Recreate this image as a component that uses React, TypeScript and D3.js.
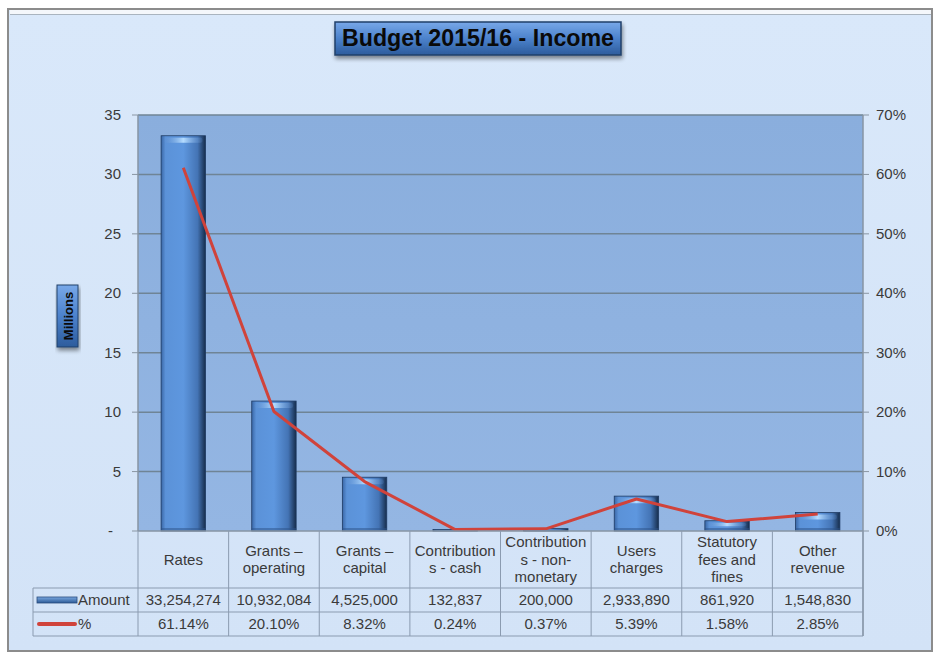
import React from "react";
import * as d3 from "d3";

const categoryLines: string[][] = [
  ["Rates"],
  ["Grants –", "operating"],
  ["Grants –", "capital"],
  ["Contribution", "s - cash"],
  ["Contribution", "s - non-", "monetary"],
  ["Users", "charges"],
  ["Statutory", "fees and", "fines"],
  ["Other", "revenue"],
];
const amounts: number[] = [33254274, 10932084, 4525000, 132837, 200000, 2933890, 861920, 1548830];
const percents: number[] = [0.6114, 0.201, 0.0832, 0.0024, 0.0037, 0.0539, 0.0158, 0.0285];
const leftTicks: number[] = [0, 5, 10, 15, 20, 25, 30, 35];
const rightTicks: number[] = [0, 0.1, 0.2, 0.3, 0.4, 0.5, 0.6, 0.7];
const titleText = "Budget 2015/16 - Income";
const seriesNames = ["Amount", "%"];

const W = 934;
const H = 653;
const FONT = "'Liberation Sans', Arial, sans-serif";

export default function App() {
  const px0 = 138, px1 = 863, py0 = 115, py1 = 531;
  const idx = categoryLines.map((_, i) => String(i));
  const x = d3.scaleBand<string>().domain(idx).range([px0, px1]).paddingInner(0.51).paddingOuter(0.255);
  const step = x.step();
  const yL = d3.scaleLinear().domain([0, 35]).range([py1, py0]);
  const yR = d3.scaleLinear().domain([0, 0.7]).range([py1, py0]);
  const line = d3
    .line<number>()
    .x((_, i) => (x(String(i)) as number) + x.bandwidth() / 2)
    .y((d) => yR(d));
  const fmtAmt = d3.format(",");
  const fmtPct = d3.format(".2%");

  const rowCatTop = py1, rowAmtTop = 588, rowPctTop = 612, rowBottom = 636;
  const tableLeft = 33;
  const textColor = "#3a3a3a";
  const borderColor = "#8b9bb0";

  return (
    <svg width={W} height={H} style={{ position: "absolute", left: 0, top: 0 }} fontFamily={FONT}>
      <defs>
        <linearGradient id="bgGrad" x1="0" y1="0" x2="0" y2="1">
          <stop offset="0" stopColor="#d9e8fa" />
          <stop offset="1" stopColor="#d3e3f7" />
        </linearGradient>
        <linearGradient id="plotGrad" x1="0" y1="0" x2="0" y2="1">
          <stop offset="0" stopColor="#8aaedd" />
          <stop offset="1" stopColor="#94b6e3" />
        </linearGradient>
        <linearGradient id="barGrad" x1="0" y1="0" x2="1" y2="0">
          <stop offset="0" stopColor="#3a67a6" />
          <stop offset="0.1" stopColor="#5b92d8" />
          <stop offset="0.5" stopColor="#5e97df" />
          <stop offset="0.82" stopColor="#4474b5" />
          <stop offset="1" stopColor="#162d4c" />
        </linearGradient>
        <linearGradient id="capGrad" x1="0" y1="0" x2="1" y2="0">
          <stop offset="0" stopColor="#5f8fcf" stopOpacity="0.2" />
          <stop offset="0.5" stopColor="#b5dcff" />
          <stop offset="1" stopColor="#5f8fcf" stopOpacity="0.2" />
        </linearGradient>
        <linearGradient id="boxGrad" x1="0" y1="0" x2="0" y2="1">
          <stop offset="0" stopColor="#78a8e8" />
          <stop offset="0.5" stopColor="#4c82cc" />
          <stop offset="1" stopColor="#2d5c9c" />
        </linearGradient>
        <linearGradient id="swatchGrad" x1="0" y1="0" x2="0" y2="1">
          <stop offset="0" stopColor="#7aa8e0" />
          <stop offset="1" stopColor="#2c5a96" />
        </linearGradient>
        <filter id="shadow" x="-10%" y="-20%" width="120%" height="160%">
          <feGaussianBlur in="SourceAlpha" stdDeviation="2" />
          <feOffset dx="1" dy="3" result="ob" />
          <feComponentTransfer>
            <feFuncA type="linear" slope="0.45" />
          </feComponentTransfer>
          <feMerge>
            <feMergeNode />
            <feMergeNode in="SourceGraphic" />
          </feMerge>
        </filter>
      </defs>

      {/* page + frame */}
      <rect x={0} y={0} width={W} height={H} fill="#ffffff" />
      <rect x={8} y={9} width={924} height={642} fill="url(#bgGrad)" stroke="#8c8c8c" strokeWidth={2} />
      <line x1={10} y1={14.5} x2={931} y2={14.5} stroke="#a9b4bf" strokeWidth={1} />
      <rect x={10} y={10} width={921} height={4} fill="#f4f7fb" />

      {/* title */}
      <g filter="url(#shadow)">
        <rect x={335} y={22} width={286} height={33} fill="url(#boxGrad)" stroke="#22406a" strokeWidth={1.5} />
      </g>
      <text x={478} y={46} textAnchor="middle" fontSize={23} fontWeight="bold" fill="#0a0a0a" textLength={272} lengthAdjust="spacingAndGlyphs">
        {titleText}
      </text>

      {/* Millions label */}
      <g filter="url(#shadow)">
        <rect x={57} y={285} width={21} height={62} fill="url(#boxGrad)" stroke="#22406a" strokeWidth={1} />
      </g>
      <text transform={`translate(72.5,316) rotate(-90)`} textAnchor="middle" fontSize={13} fontWeight="bold" fill="#0a0a0a">
        Millions
      </text>

      {/* plot area */}
      <rect x={px0} y={py0} width={px1 - px0} height={py1 - py0} fill="url(#plotGrad)" />
      {leftTicks.map((t) => (
        <g key={"g" + t}>
          {t > 0 && <line x1={px0} x2={px1} y1={yL(t)} y2={yL(t)} stroke="#6f8495" strokeWidth={1.5} />}
          <line x1={px0 - 6} x2={px0} y1={yL(t)} y2={yL(t)} stroke="#8a96a3" strokeWidth={1} />
          <text x={t === 0 ? 113 : 121} y={yL(t) + 5} textAnchor="end" fontSize={15} fill={textColor}>
            {t === 0 ? "-" : String(t)}
          </text>
        </g>
      ))}
      {rightTicks.map((t) => (
        <g key={"r" + t}>
          <line x1={px1} x2={px1 + 6} y1={yR(t)} y2={yR(t)} stroke="#8a96a3" strokeWidth={1} />
          <text x={876} y={yR(t) + 5} textAnchor="start" fontSize={15} fill={textColor}>
            {d3.format(".0%")(t)}
          </text>
        </g>
      ))}
      <line x1={px0} x2={px0} y1={py0} y2={py1} stroke="#8795a3" strokeWidth={1.5} />
      <line x1={px1} x2={px1} y1={py0} y2={rowBottom} stroke="#8795a3" strokeWidth={1.5} />

      {/* bars */}
      {amounts.map((a, i) => {
        const bx = x(String(i)) as number;
        const bw = x.bandwidth();
        const by = yL(a / 1e6);
        const bh = py1 - by;
        return (
          <g key={"b" + i}>
            <rect x={bx} y={by} width={bw} height={bh} fill="url(#barGrad)" stroke="#1d3a63" strokeWidth={0.8} />
            {bh > 6 && (
              <rect x={bx + 3} y={by + 2} width={bw - 6} height={Math.min(5, bh / 3)} rx={2} fill="url(#capGrad)" />
            )}
            {bh > 10 && <rect x={bx} y={py1 - 3} width={bw} height={3} fill="#2c5288" opacity={0.5} />}
          </g>
        );
      })}

      {/* line */}
      <path d={line(percents) || ""} fill="none" stroke="#d0433b" strokeWidth={3} strokeLinejoin="round" />

      {/* data table */}
      <line x1={px0} x2={px1} y1={py1} y2={py1} stroke="#8795a3" strokeWidth={1.5} />
      {categoryLines.map((lines, i) => {
        const cx = px0 + step * i + step / 2;
        const mid = (rowCatTop + rowAmtTop) / 2;
        const lh = 17.5;
        const start = mid - ((lines.length - 1) * lh) / 2;
        return (
          <g key={"c" + i}>
            {lines.map((l, j) => (
              <text key={j} x={cx} y={start + j * lh + 5} textAnchor="middle" fontSize={15} fill={textColor}>
                {l}
              </text>
            ))}
            <text x={cx} y={(rowAmtTop + rowPctTop) / 2 + 5} textAnchor="middle" fontSize={15} fill={textColor}>
              {fmtAmt(amounts[i])}
            </text>
            <text x={cx} y={(rowPctTop + rowBottom) / 2 + 5} textAnchor="middle" fontSize={15} fill={textColor}>
              {fmtPct(percents[i])}
            </text>
          </g>
        );
      })}
      {d3.range(categoryLines.length + 1).map((i) => (
        <line
          key={"v" + i}
          x1={px0 + step * i}
          x2={px0 + step * i}
          y1={rowCatTop}
          y2={rowBottom}
          stroke={borderColor}
          strokeWidth={1}
        />
      ))}
      <line x1={tableLeft} x2={tableLeft} y1={rowAmtTop} y2={rowBottom} stroke={borderColor} />
      {[rowAmtTop, rowPctTop, rowBottom].map((yy) => (
        <line key={"h" + yy} x1={tableLeft} x2={px1} y1={yy} y2={yy} stroke={borderColor} />
      ))}

      {/* legend keys */}
      <rect x={37} y={597} width={40} height={6} fill="url(#swatchGrad)" stroke="#2a4d7d" strokeWidth={0.8} />
      <text x={78} y={605} fontSize={15} fill={textColor}>
        {seriesNames[0]}
      </text>
      <line x1={39} x2={75} y1={624} y2={624} stroke="#d0433b" strokeWidth={4} strokeLinecap="round" />
      <text x={78} y={629} fontSize={15} fill={textColor}>
        {seriesNames[1]}
      </text>
    </svg>
  );
}
